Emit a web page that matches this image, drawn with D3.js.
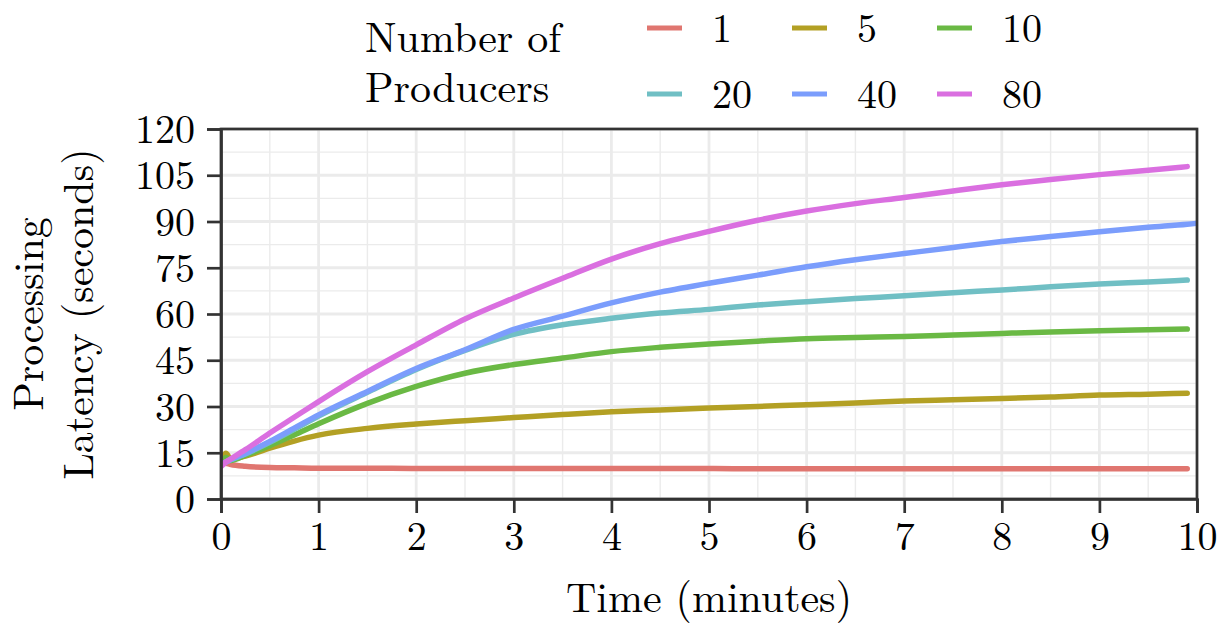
<!DOCTYPE html>
<html>
<head>
<meta charset="utf-8">
<script src="https://cdn.jsdelivr.net/npm/d3@7"></script>
<style>
  body { margin: 0; background: #fff; }
  text { font-family: "Latin Modern Roman", "CMU Serif", "Liberation Serif", serif; fill: #000; }
</style>
</head>
<body>
<div id="app"></div>
<script>
// sample times (minutes)
const times = [0, 0.05, 0.1, 0.25, 0.5, 0.75, 1, 1.5, 2, 2.5, 3, 3.5, 4, 4.5, 5, 5.5, 6, 6.5, 7, 7.5, 8, 8.5, 9, 9.5, 9.9, 10];

const producers = ["1", "5", "10", "20", "40", "80"];
const colors = ["#E07670", "#B3A024", "#6AB944", "#70BFC4", "#7B9DFC", "#DA6FE0"];

// processing latency (seconds) per number of producers
const lat1  = [12, 11.6, 11.2, 10.6, 10.2, 10.1, 10.0, 10.0, 9.9, 9.9, 9.9, 9.9, 9.9, 9.9, 9.9, 9.8, 9.8, 9.8, 9.8, 9.8, 9.8, 9.8, 9.8, 9.8, 9.8, null];
const lat5  = [11.5, 14.8, 13.0, 13.9, 16.5, 18.8, 20.7, 22.9, 24.3, 25.4, 26.4, 27.4, 28.3, 28.9, 29.5, 30.0, 30.6, 31.1, 31.8, 32.2, 32.6, 33.1, 33.7, 34.0, 34.3, null];
const lat10 = [11.5, 13.5, 12.5, 14.2, 17.3, 20.8, 24.4, 31.0, 36.5, 40.8, 43.6, 45.7, 47.8, 49.2, 50.3, 51.2, 52.0, 52.4, 52.7, 53.2, 53.7, 54.2, 54.6, 54.9, 55.1, null];
const lat20 = [11, 12, 12.7, 14.6, 18.4, 22.6, 26.9, 34.6, 42.0, 48.2, 53.4, 56.5, 58.6, 60.3, 61.5, 62.9, 64.0, 65.0, 65.9, 66.9, 67.8, 68.8, 69.7, 70.4, 71.0, null];
const lat40 = [11, 12, 12.8, 14.8, 18.7, 23.0, 27.3, 34.9, 42.3, 48.4, 55.0, 59.3, 63.6, 67.1, 70.0, 72.6, 75.3, 77.6, 79.6, 81.6, 83.5, 85.1, 86.7, 88.1, 89.1, 89.4];
const lat80 = [10.5, 12, 13, 16, 21.4, 26.5, 31.6, 41.3, 50.0, 58.4, 65.2, 71.6, 77.8, 82.8, 86.8, 90.4, 93.4, 95.8, 97.8, 99.9, 101.9, 103.6, 105.2, 106.6, 107.8, null];

const xTicks = [0, 1, 2, 3, 4, 5, 6, 7, 8, 9, 10];
const yTicks = [0, 15, 30, 45, 60, 75, 90, 105, 120];

const seriesValues = [lat1, lat5, lat10, lat20, lat40, lat80];

const width = 1228;
const height = 638;
const margin = { top: 129, right: 31, bottom: 139, left: 221 };
const fs = 40;   // numbers
const fsw = 42;  // words

const svg = d3.select("#app").append("svg").attr("width", width).attr("height", height);

const x = d3.scaleLinear().domain([0, 10]).range([margin.left, width - margin.right]);
const y = d3.scaleLinear().domain([0, 120]).range([height - margin.bottom, margin.top]);

// GRID
const grid = svg.append("g");
const xMinor = d3.range(0.5, 10, 1);
const yMinor = d3.range(7.5, 120, 15);
grid.selectAll(".xminor").data(xMinor).join("line")
  .attr("x1", d => x(d)).attr("x2", d => x(d))
  .attr("y1", y(0)).attr("y2", y(120))
  .attr("stroke", "#ebebeb").attr("stroke-width", 1.4);
grid.selectAll(".yminor").data(yMinor).join("line")
  .attr("x1", x(0)).attr("x2", x(10))
  .attr("y1", d => y(d)).attr("y2", d => y(d))
  .attr("stroke", "#ebebeb").attr("stroke-width", 1.4);
grid.selectAll(".xmajor").data(xTicks).join("line")
  .attr("x1", d => x(d)).attr("x2", d => x(d))
  .attr("y1", y(0)).attr("y2", y(120))
  .attr("stroke", "#ebebeb").attr("stroke-width", 2.8);
grid.selectAll(".ymajor").data(yTicks).join("line")
  .attr("x1", x(0)).attr("x2", x(10))
  .attr("y1", d => y(d)).attr("y2", d => y(d))
  .attr("stroke", "#ebebeb").attr("stroke-width", 2.8);

// LINES
const line = d3.line()
  .defined(d => d[1] !== null)
  .x(d => x(d[0]))
  .y(d => y(d[1]))
  .curve(d3.curveMonotoneX);

svg.append("clipPath").attr("id", "clip").append("rect")
  .attr("x", x(0)).attr("y", y(120)).attr("width", x(10) - x(0)).attr("height", y(0) - y(120));

svg.append("g").attr("clip-path", "url(#clip)")
  .selectAll("path")
  .data(seriesValues)
  .join("path")
  .attr("d", vals => line(times.map((t, i) => [t, vals[i]])))
  .attr("fill", "none")
  .attr("stroke", (d, i) => colors[i])
  .attr("stroke-width", 5.5)
  .attr("stroke-linecap", "round")
  .attr("stroke-linejoin", "round");

// PANEL BORDER
svg.append("rect")
  .attr("x", x(0)).attr("y", y(120))
  .attr("width", x(10) - x(0)).attr("height", y(0) - y(120))
  .attr("fill", "none").attr("stroke", "#333").attr("stroke-width", 2.7);

// AXES
const xAxis = svg.append("g")
  .attr("transform", `translate(0,${y(0)})`)
  .call(d3.axisBottom(x).tickValues(xTicks).tickSize(14).tickPadding(8).tickFormat(d3.format("d")));
const yAxis = svg.append("g")
  .attr("transform", `translate(${x(0)},0)`)
  .call(d3.axisLeft(y).tickValues(yTicks).tickSize(14).tickPadding(12).tickFormat(d3.format("d")));

[xAxis, yAxis].forEach(a => {
  a.select(".domain").attr("stroke", "#333").attr("stroke-width", 2.7);
  a.selectAll(".tick line").attr("stroke", "#333").attr("stroke-width", 2.7);
  a.selectAll(".tick text").attr("font-size", fs).attr("fill", "#000")
    .style("font-family", '"Latin Modern Roman", "CMU Serif", "Liberation Serif", serif');
});
yAxis.selectAll(".tick text").attr("dy", "0.34em");
xAxis.selectAll(".tick text").attr("dy", "0.72em");

// AXIS TITLES
svg.append("text")
  .attr("x", (x(0) + x(10)) / 2).attr("y", 612)
  .attr("text-anchor", "middle").attr("font-size", fsw)
  .text("Time (minutes)");

const yTitle = svg.append("text")
  .attr("transform", `translate(43,${(y(0) + y(120)) / 2}) rotate(-90)`)
  .attr("text-anchor", "middle").attr("font-size", fsw);
yTitle.append("tspan").attr("x", 0).attr("y", 0).text("Processing");
yTitle.append("tspan").attr("x", 0).attr("y", 50).text("Latency (seconds)");

// LEGEND
const legend = svg.append("g");
legend.append("text").attr("x", 365).attr("y", 52).attr("font-size", fsw).text("Number of");
legend.append("text").attr("x", 365).attr("y", 102).attr("font-size", fsw).text("Producers");

const colX = [647, 792, 937];
const rowY = [42, 108];
const items = legend.selectAll(".item").data(producers).join("g")
  .attr("transform", (d, i) => `translate(${colX[i % 3]},${rowY[Math.floor(i / 3)]})`);
items.append("line")
  .attr("x1", 0).attr("x2", 35).attr("y1", -14).attr("y2", -14)
  .attr("stroke", (d, i) => colors[i]).attr("stroke-width", 5);
items.append("text")
  .attr("x", 65).attr("y", 0).attr("font-size", fs)
  .text(d => d);
</script>
</body>
</html>
